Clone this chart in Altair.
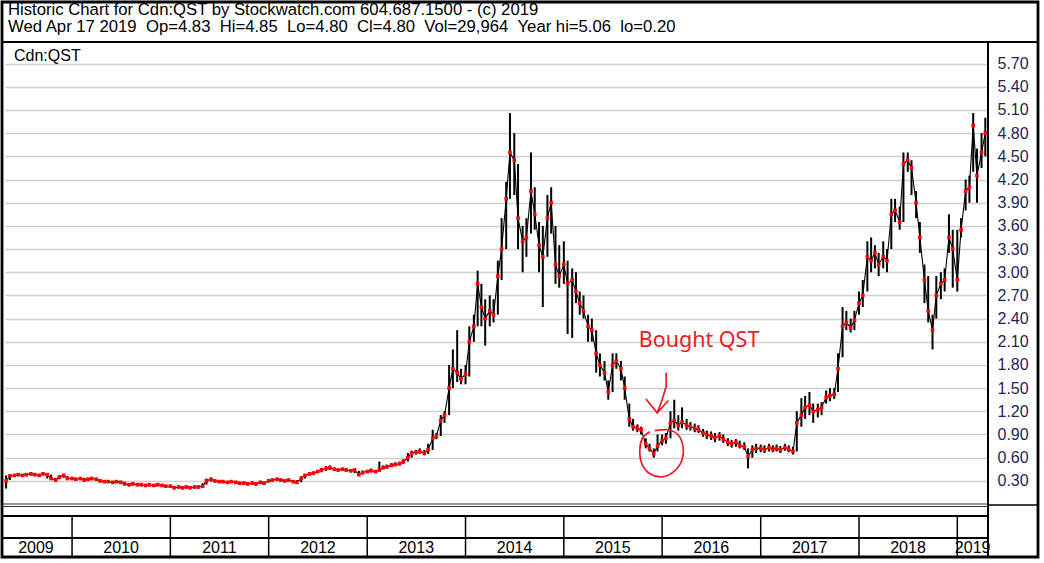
import altair as alt
import pandas as pd

# ---------------- data (semi-monthly bars) ----------------
close_2009 = [0.30, 0.36, 0.37, 0.38, 0.37, 0.38, 0.39, 0.38, 0.37, 0.39, 0.38, 0.33, 0.31, 0.35, 0.37, 0.33]
high_2009 = [0.37, 0.39, 0.39, 0.40, 0.39, 0.40, 0.41, 0.40, 0.39, 0.41, 0.40, 0.38, 0.34, 0.37, 0.39, 0.36]
low_2009 = [0.20, 0.31, 0.35, 0.36, 0.35, 0.36, 0.37, 0.36, 0.35, 0.37, 0.33, 0.31, 0.29, 0.32, 0.34, 0.31]

close_2010 = [0.33, 0.32, 0.33, 0.31, 0.32, 0.33, 0.32, 0.30, 0.29, 0.29, 0.28, 0.29, 0.28, 0.26, 0.25, 0.26, 0.25, 0.25, 0.24, 0.25, 0.24, 0.25, 0.24, 0.23]
high_2010 = [0.35, 0.34, 0.35, 0.34, 0.34, 0.35, 0.34, 0.32, 0.31, 0.31, 0.30, 0.31, 0.30, 0.29, 0.27, 0.28, 0.27, 0.27, 0.26, 0.27, 0.26, 0.27, 0.26, 0.25]
low_2010 = [0.31, 0.30, 0.31, 0.29, 0.30, 0.31, 0.30, 0.28, 0.27, 0.27, 0.26, 0.27, 0.26, 0.24, 0.23, 0.24, 0.23, 0.23, 0.22, 0.23, 0.22, 0.23, 0.22, 0.21]

close_2011 = [0.23, 0.21, 0.22, 0.21, 0.22, 0.21, 0.22, 0.22, 0.23, 0.30, 0.32, 0.30, 0.29, 0.29, 0.28, 0.29, 0.28, 0.27, 0.27, 0.26, 0.27, 0.26, 0.28, 0.27]
high_2011 = [0.25, 0.23, 0.24, 0.23, 0.24, 0.23, 0.24, 0.24, 0.27, 0.33, 0.34, 0.32, 0.31, 0.31, 0.30, 0.31, 0.30, 0.29, 0.29, 0.28, 0.29, 0.28, 0.30, 0.29]
low_2011 = [0.21, 0.19, 0.20, 0.19, 0.20, 0.19, 0.20, 0.20, 0.21, 0.25, 0.29, 0.28, 0.27, 0.27, 0.26, 0.27, 0.26, 0.25, 0.25, 0.24, 0.25, 0.24, 0.26, 0.25]

close_2012 = [0.30, 0.31, 0.32, 0.31, 0.30, 0.31, 0.29, 0.28, 0.33, 0.37, 0.39, 0.40, 0.42, 0.44, 0.46, 0.47, 0.45, 0.44, 0.45, 0.44, 0.43, 0.44, 0.38, 0.41]
high_2012 = [0.32, 0.33, 0.34, 0.33, 0.32, 0.33, 0.31, 0.31, 0.36, 0.39, 0.41, 0.42, 0.44, 0.47, 0.49, 0.50, 0.47, 0.46, 0.47, 0.46, 0.45, 0.46, 0.43, 0.43]
low_2012 = [0.28, 0.29, 0.30, 0.29, 0.28, 0.29, 0.27, 0.26, 0.28, 0.33, 0.37, 0.38, 0.40, 0.41, 0.43, 0.44, 0.43, 0.42, 0.43, 0.42, 0.41, 0.40, 0.36, 0.38]

close_2013 = [0.42, 0.43, 0.42, 0.44, 0.47, 0.48, 0.50, 0.51, 0.52, 0.55, 0.60, 0.66, 0.67, 0.68, 0.66, 0.70, 0.85, 0.88, 1.08, 1.15, 1.50, 1.75, 1.70, 1.62]
high_2013 = [0.44, 0.46, 0.44, 0.55, 0.50, 0.51, 0.53, 0.54, 0.55, 0.58, 0.66, 0.69, 0.70, 0.72, 0.70, 0.78, 0.96, 0.92, 1.15, 1.20, 1.80, 2.00, 2.25, 1.75]
low_2013 = [0.40, 0.41, 0.40, 0.42, 0.45, 0.46, 0.48, 0.49, 0.50, 0.52, 0.55, 0.60, 0.64, 0.65, 0.63, 0.65, 0.70, 0.84, 0.88, 1.05, 1.15, 1.50, 1.58, 1.55]

close_2014 = [1.68, 2.10, 2.30, 2.85, 2.55, 2.40, 2.50, 2.45, 2.95, 3.30, 3.95, 4.55, 4.45, 3.70, 3.40, 3.45, 4.05, 3.75, 3.35, 3.20, 3.70, 3.90, 3.10, 2.95]
high_2014 = [1.80, 2.30, 2.45, 3.02, 2.85, 2.65, 2.70, 2.65, 3.15, 3.70, 4.17, 5.06, 4.80, 4.40, 3.60, 3.70, 4.55, 4.10, 3.65, 3.60, 4.00, 4.10, 3.60, 3.35]
low_2014 = [1.55, 1.65, 2.10, 2.30, 2.30, 2.05, 2.30, 2.35, 2.45, 2.90, 3.30, 3.95, 4.00, 3.30, 3.00, 3.20, 3.50, 3.55, 3.00, 2.55, 3.20, 3.50, 2.85, 2.80]

close_2015 = [3.10, 2.85, 2.90, 2.75, 2.60, 2.50, 2.30, 2.25, 1.95, 1.80, 1.70, 1.45, 1.80, 1.85, 1.75, 1.50, 1.10, 1.00, 0.98, 0.96, 0.78, 0.72, 0.65, 0.75]
high_2015 = [3.40, 3.15, 3.05, 3.00, 2.75, 2.70, 2.45, 2.40, 2.25, 1.95, 1.85, 1.60, 1.95, 1.95, 1.85, 1.65, 1.30, 1.10, 1.03, 1.00, 0.85, 0.78, 0.72, 0.90]
low_2015 = [2.85, 2.20, 2.15, 2.60, 2.45, 2.40, 2.10, 2.10, 1.70, 1.65, 1.60, 1.35, 1.45, 1.75, 1.60, 1.35, 1.00, 0.95, 0.93, 0.90, 0.72, 0.68, 0.60, 0.68]

close_2016 = [0.82, 0.85, 1.05, 1.08, 1.02, 1.06, 1.02, 1.00, 0.98, 0.96, 0.92, 0.90, 0.88, 0.86, 0.88, 0.84, 0.80, 0.78, 0.80, 0.76, 0.74, 0.62, 0.70, 0.72]
high_2016 = [0.90, 0.92, 1.20, 1.35, 1.15, 1.25, 1.10, 1.06, 1.04, 1.02, 0.97, 0.95, 0.94, 0.92, 0.93, 0.90, 0.85, 0.83, 0.84, 0.82, 0.80, 0.72, 0.76, 0.78]
low_2016 = [0.76, 0.78, 0.85, 0.98, 0.95, 0.98, 0.96, 0.95, 0.93, 0.92, 0.87, 0.84, 0.83, 0.80, 0.82, 0.79, 0.75, 0.73, 0.74, 0.72, 0.70, 0.46, 0.60, 0.66]

close_2017 = [0.72, 0.70, 0.73, 0.71, 0.72, 0.70, 0.73, 0.71, 0.68, 1.05, 1.15, 1.25, 1.28, 1.20, 1.22, 1.25, 1.38, 1.40, 1.42, 1.75, 2.30, 2.35, 2.28, 2.38]
high_2017 = [0.77, 0.76, 0.78, 0.76, 0.77, 0.75, 0.78, 0.76, 0.74, 1.20, 1.37, 1.40, 1.45, 1.30, 1.30, 1.32, 1.47, 1.50, 1.50, 1.95, 2.55, 2.50, 2.40, 2.50]
low_2017 = [0.67, 0.66, 0.68, 0.67, 0.68, 0.66, 0.69, 0.67, 0.64, 0.68, 1.00, 1.10, 1.15, 1.05, 1.12, 1.15, 1.30, 1.33, 1.36, 1.45, 1.90, 2.25, 2.22, 2.25]

close_2018 = [2.60, 2.70, 3.20, 3.15, 3.25, 3.10, 3.20, 3.15, 3.75, 3.80, 3.65, 4.40, 4.45, 4.35, 3.90, 3.45, 2.90, 2.50, 2.25, 2.70, 2.85, 2.90, 3.45, 3.30]
high_2018 = [2.75, 2.90, 3.40, 3.45, 3.35, 3.25, 3.40, 3.30, 3.95, 3.95, 3.85, 4.55, 4.55, 4.45, 4.05, 3.65, 3.10, 2.95, 2.45, 2.95, 3.00, 3.05, 3.75, 3.55]
low_2018 = [2.45, 2.55, 2.75, 3.00, 3.05, 2.95, 3.05, 3.00, 3.30, 3.65, 3.55, 3.65, 4.30, 4.00, 3.70, 3.25, 2.60, 2.35, 2.00, 2.40, 2.65, 2.75, 3.25, 2.80]

close_2019 = [2.90, 3.55, 4.05, 4.10, 4.90, 4.25, 4.55, 4.80]
high_2019 = [3.55, 3.70, 4.20, 4.25, 5.06, 4.60, 4.80, 5.00]
low_2019 = [2.75, 3.45, 3.80, 3.90, 4.30, 3.90, 4.35, 4.50]

close = (close_2009 + close_2010 + close_2011 + close_2012 + close_2013 + close_2014
         + close_2015 + close_2016 + close_2017 + close_2018 + close_2019)
high = (high_2009 + high_2010 + high_2011 + high_2012 + high_2013 + high_2014
        + high_2015 + high_2016 + high_2017 + high_2018 + high_2019)
low = (low_2009 + low_2010 + low_2011 + low_2012 + low_2013 + low_2014
       + low_2015 + low_2016 + low_2017 + low_2018 + low_2019)

y_ticks = [0.30, 0.60, 0.90, 1.20, 1.50, 1.80, 2.10, 2.40, 2.70, 3.00, 3.30,
           3.60, 3.90, 4.20, 4.50, 4.80, 5.10, 5.40, 5.70]

years = ["2009", "2010", "2011", "2012", "2013", "2014", "2015", "2016", "2017", "2018", "2019"]
year_label_dates = ["2009-08-20", "2010-07-02", "2011-07-02", "2012-07-02", "2013-07-02", "2014-07-02",
                    "2015-07-02", "2016-07-02", "2017-07-02", "2018-07-02", "2019-02-27"]
year_bounds = ["2010-01-01", "2011-01-01", "2012-01-01", "2013-01-01", "2014-01-01",
               "2015-01-01", "2016-01-01", "2017-01-01", "2018-01-01", "2019-01-01"]

header1 = "Historic Chart for Cdn:QST by Stockwatch.com 604.687.1500 - (c) 2019"
header2 = ("Wed Apr 17 2019 \u00a0Op=4.83 \u00a0Hi=4.85 \u00a0Lo=4.80 \u00a0Cl=4.80 "
           "\u00a0Vol=29,964 \u00a0Year hi=5.06 \u00a0lo=0.20")
symbol = "Cdn:QST"

note_text = "Bought QST"
note_date = ["2016-05-17"]
note_price = [2.03]

arrow_dates = ["2016-01-16", "2016-01-16", "2016-01-01", "2015-12-14",
               "2015-11-02", "2015-12-14", "2016-01-24"]
arrow_prices = [1.70, 1.52, 1.35, 1.18, 1.36, 1.18, 1.34]
arrow_part = [0, 0, 0, 0, 1, 1, 1]

circle_dates = ["2015-12-05", "2016-01-23", "2016-02-29", "2016-03-19", "2016-03-15", "2016-02-17",
                "2016-01-01", "2015-11-17", "2015-10-18", "2015-10-10", "2015-10-21", "2015-11-17"]
circle_prices = [0.949, 0.961, 0.896, 0.740, 0.572, 0.430, 0.352, 0.391, 0.520, 0.702, 0.857, 0.935]

# ---------------- tables ----------------
dates = pd.date_range("2009-05-01", periods=len(close), freq="SMS")
df = pd.DataFrame({"date": dates, "close": close, "high": high, "low": low})

df_years = pd.DataFrame({"date": pd.to_datetime(year_label_dates), "label": years})
df_bounds = pd.DataFrame({"date": pd.to_datetime(year_bounds)})
df_note = pd.DataFrame({"date": pd.to_datetime(note_date), "price": note_price})
df_arrow = pd.DataFrame({"date": pd.to_datetime(arrow_dates), "price": arrow_prices,
                         "part": arrow_part, "i": list(range(len(arrow_dates)))})
df_circle = pd.DataFrame({"date": pd.to_datetime(circle_dates), "price": circle_prices,
                          "i": list(range(len(circle_dates)))})
one = pd.DataFrame({"k": [0]})

FONT = "Liberation Sans"
RED = "#ed1c24"

xscale = alt.Scale(domain=[alt.DateTime(year=2009, month=4, date=27),
                           alt.DateTime(year=2019, month=4, date=25)])
yscale = alt.Scale(domain=[0, 5.98], nice=False, zero=False)
yaxis = alt.Axis(orient="right", values=y_ticks, format=".2f", grid=True,
                 gridColor="#d0d0d0", gridWidth=1.6, domain=False, ticks=False,
                 labelPadding=9, labelFont=FONT, labelFontSize=16, labelColor="#1f2556",
                 labelAlign="left", title=None, labelOverlap=False, labelBound=False)

X = alt.X("date:T", scale=xscale, axis=None)

bars = alt.Chart(df).mark_rule(color="black", strokeWidth=2.0).encode(
    x=X, y=alt.Y("low:Q", scale=yscale, axis=yaxis), y2="high:Q")
cline = alt.Chart(df).mark_line(color="black", strokeWidth=1.1).encode(
    x=X, y=alt.Y("close:Q", scale=yscale, axis=yaxis))
cdots = alt.Chart(df).mark_square(color="#ff0000", size=13, opacity=1).encode(
    x=X, y=alt.Y("close:Q", scale=yscale, axis=yaxis))

note = alt.Chart(df_note).mark_text(color=RED, font="Noto Sans", fontSize=21.5,
                                    align="center", baseline="alphabetic").encode(
    x=X, y=alt.Y("price:Q", scale=yscale, axis=yaxis), text=alt.value(note_text))
arrow = alt.Chart(df_arrow).mark_line(color=RED, strokeWidth=1.7).encode(
    x=X, y=alt.Y("price:Q", scale=yscale, axis=yaxis), detail="part:N", order="i:Q")
circle = alt.Chart(df_circle).mark_line(color=RED, strokeWidth=1.7, interpolate="cardinal").encode(
    x=X, y=alt.Y("price:Q", scale=yscale, axis=yaxis), order="i:Q")


def hline(y, x1, x2, w=2.0, color="black"):
    return alt.Chart(one).mark_rule(color=color, strokeWidth=w).encode(
        x=alt.value(x1), x2=alt.value(x2), y=alt.value(y))


def vline(x, y1, y2, w=2.0):
    return alt.Chart(one).mark_rule(color="black", strokeWidth=w).encode(
        x=alt.value(x), y=alt.value(y1), y2=alt.value(y2))


outer = alt.Chart(one).mark_rect(fill=None, stroke="black", strokeWidth=2.8).encode(
    x=alt.value(-3), x2=alt.value(1033), y=alt.value(-40), y2=alt.value(515))

frame = [
    hline(0, -3, 1033, 2.0),
    vline(983, 0, 515, 2.0),
    hline(462, -3, 983, 1.2, "#333333"),
    hline(464.5, -3, 983, 1.2, "#333333"),
    hline(463, 983, 1033, 1.5),
    hline(474, -3, 983, 2.0),
    hline(496, -3, 983, 2.0),
]

year_sep = alt.Chart(df_bounds).mark_rule(color="black", strokeWidth=1.5).encode(
    x=X, y=alt.value(474), y2=alt.value(515))
year_txt = alt.Chart(df_years).mark_text(font=FONT, fontSize=16, color="black",
                                         align="center", baseline="alphabetic").encode(
    x=X, y=alt.value(510.5), text="label:N")


def label(txt, x, y, size=16):
    return alt.Chart(one).mark_text(font=FONT, fontSize=size, color="black",
                                    align="left", baseline="alphabetic").encode(
        x=alt.value(x), y=alt.value(y), text=alt.value(txt))


texts = [label(header1, 3, -27, 16.7), label(header2, 3, -10, 16.7), label(symbol, 9, 19, 16)]

chart = alt.layer(bars, cline, cdots, circle, arrow, note, year_sep, year_txt,
                  outer, *frame, *texts).properties(
    width=983, height=462,
    padding={"left": 5, "top": 42, "right": 56, "bottom": 59},
    autosize=alt.AutoSizeParams(type="none"),
    background="white",
).configure_view(stroke=None)

chart.save("out.html", embed_options={"renderer": "svg", "actions": False})
